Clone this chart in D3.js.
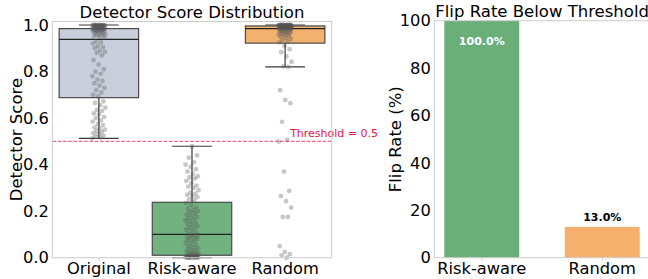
<!DOCTYPE html>
<html>
<head>
<meta charset="utf-8">
<script src="https://cdn.jsdelivr.net/npm/d3@7"></script>
<style>
body{margin:0;background:#fff}
text{font-family:"DejaVu Sans",sans-serif}
</style>
</head>
<body>
<svg id="chart" width="648" height="279"></svg>
<script>
// values (100 samples per group)
const groups = ["Original","Risk-aware","Random"];
const originalScores = [
  0.513,0.517,0.52,0.525,0.53,0.535,0.54,0.545,0.55,0.555,0.56,0.57,0.575,0.585,0.59,0.60,0.605,0.615,0.62,0.63,0.635,0.645,0.655,0.665,0.672,
  0.693,0.70,0.71,0.72,0.73,0.74,0.75,0.76,0.765,0.78,0.79,0.80,0.81,0.83,0.85,0.87,0.88,0.885,0.89,0.90,0.905,0.91,0.92,0.925,0.93,
  0.946,0.95,0.952,0.955,0.958,0.96,0.962,0.965,0.967,0.97,0.972,0.974,0.975,0.976,0.977,0.978,0.979,0.98,0.981,0.982,0.982,0.983,0.983,0.984,0.984,
  0.986,0.988,0.99,0.991,0.992,0.993,0.994,0.995,0.996,0.996,0.997,0.997,0.998,0.998,0.998,0.999,0.999,0.999,0.999,1.0,1.0,1.0,1.0,1.0,1.0];
const riskScores = [
  0.0,0.0,0.0,0.0,0.001,0.001,0.001,0.001,0.002,0.002,0.002,0.003,0.003,0.003,0.004,0.004,0.005,0.005,0.006,0.006,0.007,0.007,0.008,0.008,0.009,
  0.011,0.013,0.015,0.018,0.02,0.023,0.026,0.03,0.033,0.037,0.04,0.045,0.05,0.055,0.06,0.065,0.07,0.075,0.08,0.083,0.086,0.09,0.093,0.096,0.098,
  0.102,0.108,0.115,0.12,0.125,0.13,0.135,0.14,0.145,0.15,0.155,0.16,0.165,0.17,0.175,0.18,0.185,0.19,0.195,0.20,0.205,0.21,0.215,0.225,0.235,
  0.247,0.25,0.26,0.265,0.27,0.275,0.28,0.29,0.30,0.305,0.31,0.32,0.33,0.34,0.345,0.35,0.36,0.37,0.38,0.39,0.40,0.41,0.43,0.44,0.479];
const randomScores = [
  0.0,0.01,0.015,0.025,0.05,0.175,0.175,0.215,0.243,0.265,0.287,0.37,0.499,0.506,0.584,0.664,0.678,0.72,0.82,0.822,0.842,0.865,0.883,0.896,0.91,
  0.926,0.93,0.935,0.94,0.944,0.948,0.952,0.955,0.958,0.96,0.962,0.964,0.966,0.968,0.97,0.972,0.974,0.975,0.976,0.978,0.979,0.98,0.981,0.982,0.983,
  0.985,0.986,0.987,0.987,0.988,0.988,0.989,0.989,0.99,0.99,0.991,0.991,0.992,0.992,0.993,0.993,0.994,0.994,0.994,0.995,0.995,0.995,0.996,0.996,0.996,
  0.996,0.997,0.997,0.997,0.997,0.998,0.998,0.998,0.998,0.998,0.999,0.999,0.999,0.999,0.999,1.0,1.0,1.0,1.0,1.0,1.0,1.0,1.0,1.0,1.0];
const flipMethods = ["Risk-aware","Random"];
const flipRates = [100.0, 13.0];
const threshold = 0.5;
const scoreTicks = [0,0.2,0.4,0.6,0.8,1.0];
const rateTicks = [0,20,40,60,80,100];

const boxColors = {"Original":"#c8cedb","Risk-aware":"#72b281","Random":"#f3b170"};
const barColors = {"Risk-aware":"#6aae7a","Random":"#f4b06c"};

const svg = d3.select('#chart');
const frame = "#cccccc";

/* ---- left panel: box + strip ---- */
const L = {x0:52.3, x1:331.7, y0:21.5, y1:257.7};
const x = d3.scaleBand().domain(groups).range([L.x0,L.x1]).paddingInner(0.147).paddingOuter(0.0735);
const y = d3.scaleLinear().domain([0,1.015]).range([L.y1,L.y0]);
const series = [originalScores,riskScores,randomScores];

function stats(vals){
  const s = vals.slice().sort(d3.ascending);
  const q1 = d3.quantileSorted(s,0.25), q2 = d3.quantileSorted(s,0.5), q3 = d3.quantileSorted(s,0.75);
  const iqr = q3-q1;
  const lo = d3.min(s.filter(v=>v>=q1-1.5*iqr)), hi = d3.max(s.filter(v=>v<=q3+1.5*iqr));
  return {q1,q2,q3,lo,hi};
}

const left = svg.append('g');
groups.forEach((g,i)=>{
  const st = stats(series[i]);
  const cx = x(g)+x.bandwidth()/2, bw = x.bandwidth();
  left.append('line').attr('x1',cx).attr('x2',cx).attr('y1',y(st.hi)).attr('y2',y(st.q3))
    .attr('stroke','#3a3a3a').attr('stroke-width',1.2);
  left.append('line').attr('x1',cx).attr('x2',cx).attr('y1',y(st.q1)).attr('y2',y(st.lo))
    .attr('stroke','#3a3a3a').attr('stroke-width',1.2);
  [st.hi,st.lo].forEach(v=>left.append('line').attr('x1',cx-bw/4).attr('x2',cx+bw/4)
    .attr('y1',y(v)).attr('y2',y(v)).attr('stroke','#3a3a3a').attr('stroke-width',1.2));
  left.append('rect').attr('x',x(g)).attr('width',bw).attr('y',y(st.q3)).attr('height',y(st.q1)-y(st.q3))
    .attr('fill',boxColors[g]).attr('stroke','#4a4a4a').attr('stroke-width',1.2);
  left.append('line').attr('x1',x(g)).attr('x2',x(g)+bw).attr('y1',y(st.q2)).attr('y2',y(st.q2))
    .attr('stroke','#222').attr('stroke-width',1.2);
});

// strip points (deterministic jitter)
groups.forEach((g,i)=>{
  const cx = x(g)+x.bandwidth()/2, jw = x.step()*0.072;
  left.selectAll(null).data(series[i]).join('circle')
    .attr('cx',(d,k)=>cx+(((k*0.6180339887+i*0.31)%1)-0.5)*2*jw)
    .attr('cy',d=>y(d)).attr('r',2.4)
    .attr('fill','#555').attr('fill-opacity',0.33);
});

// threshold
left.append('line').attr('x1',L.x0).attr('x2',L.x1).attr('y1',y(threshold)).attr('y2',y(threshold))
  .attr('stroke','#e8174a').attr('stroke-opacity',0.65).attr('stroke-width',1.1).attr('stroke-dasharray','3.7,1.6');
left.append('text').attr('x',x('Random')+x.bandwidth()/2+5).attr('y',y(threshold)-4)
  .attr('fill','#e0194a').attr('font-size',11).text('Threshold = '+threshold);

left.append('rect').attr('x',L.x0).attr('y',L.y0).attr('width',L.x1-L.x0).attr('height',L.y1-L.y0)
  .attr('fill','none').attr('stroke',frame);

const ay = left.append('g').attr('transform',`translate(${L.x0},0)`)
  .call(d3.axisLeft(y).tickValues(scoreTicks).tickFormat(d3.format('.1f')).tickSize(0).tickPadding(3.5));
const ax = left.append('g').attr('transform',`translate(0,${L.y1})`)
  .call(d3.axisBottom(x).tickSize(3).tickPadding(1.5));
[ay,ax].forEach(a=>{a.select('.domain').remove();
  a.selectAll('text').attr('font-size',16.3).attr('fill','#000').attr('font-family','DejaVu Sans');
  a.selectAll('.tick line').attr('stroke',frame);});
left.append('text').attr('x',(L.x0+L.x1)/2).attr('y',L.y0-4).attr('text-anchor','middle')
  .attr('font-size',16.5).text('Detector Score Distribution');
left.append('text').attr('transform',`translate(21.5,${(L.y0+L.y1)/2}) rotate(-90)`).attr('text-anchor','middle')
  .attr('font-size',16.5).text('Detector Score');

/* ---- right panel: flip rate bars ---- */
const R = {x0:434.3, x1:649.7, y0:20.7, y1:257.7};
const xb = d3.scaleBand().domain(flipMethods).range([R.x0,R.x1]).paddingInner(0.378).paddingOuter(0.083);
const yb = d3.scaleLinear().domain([0,100]).range([R.y1,R.y0]);
const right = svg.append('g');
right.selectAll('.bar').data(flipMethods).join('rect').classed('bar',true)
  .attr('x',d=>xb(d)).attr('width',xb.bandwidth())
  .attr('y',(d,i)=>yb(flipRates[i])).attr('height',(d,i)=>R.y1-yb(flipRates[i]))
  .attr('fill',d=>barColors[d]);
right.selectAll('.lab').data(flipMethods).join('text').classed('lab',true)
  .attr('x',d=>xb(d)+xb.bandwidth()/2)
  .attr('y',(d,i)=>flipRates[i]>50 ? yb(flipRates[i])+24 : yb(flipRates[i])-6)
  .attr('text-anchor','middle').attr('font-size',11).attr('font-weight','bold')
  .attr('fill',(d,i)=>flipRates[i]>50?'#fff':'#000')
  .text((d,i)=>flipRates[i].toFixed(1)+'%');
right.append('rect').attr('x',R.x0).attr('y',R.y0).attr('width',R.x1-R.x0).attr('height',R.y1-R.y0)
  .attr('fill','none').attr('stroke',frame);
const by = right.append('g').attr('transform',`translate(${R.x0},0)`)
  .call(d3.axisLeft(yb).tickValues(rateTicks).tickSize(0).tickPadding(3.5));
const bx = right.append('g').attr('transform',`translate(0,${R.y1})`)
  .call(d3.axisBottom(xb).tickSize(3).tickPadding(1.5));
[by,bx].forEach(a=>{a.select('.domain').remove();
  a.selectAll('text').attr('font-size',16.3).attr('fill','#000').attr('font-family','DejaVu Sans');
  a.selectAll('.tick line').attr('stroke',frame);});
right.append('text').attr('x',R.x0+1).attr('y',R.y0-4).attr('text-anchor','start')
  .attr('font-size',16.5).text('Flip Rate Below Threshold');
right.append('text').attr('transform',`translate(401,${(R.y0+R.y1)/2}) rotate(-90)`).attr('text-anchor','middle')
  .attr('font-size',16.5).text('Flip Rate (%)');
</script>
</body>
</html>
